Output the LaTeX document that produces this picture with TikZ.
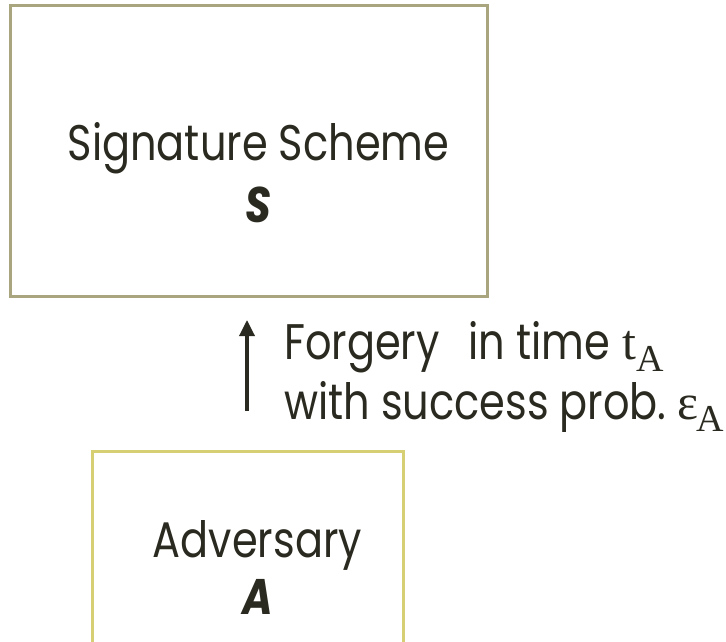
\documentclass[tikz,border=0pt]{standalone}
\usepackage{fontspec}
\setmainfont{Poppins}[FakeStretch=0.83]
\newfontfamily\serifsub{Liberation Serif}
\usetikzlibrary{arrows.meta}
\definecolor{txt}{HTML}{2B2A20}
\definecolor{boxgrey}{HTML}{A9A67F}
\definecolor{boxyellow}{HTML}{D6CF74}
\newcommand{\subA}{{\serifsub\fontsize{38}{40}\selectfont\raisebox{-12pt}{A}}}
\tikzset{
  frame/.style={draw=#1, line width=3pt, inner sep=0pt},
  lbl/.style={text=txt, font=\fontsize{50}{56}\selectfont, inner sep=0pt},
}
\begin{document}
\begin{tikzpicture}[x=1pt,y=-1pt]
\useasboundingbox (0,0) rectangle (726,641);
\node[frame=boxgrey, minimum width=477pt, minimum height=291pt] (scheme) at (248.5,150.5) {};
\node[frame=boxyellow, minimum width=311pt, minimum height=194pt] (adv) at (247.5,548) {};
\node[lbl, anchor=base] (schemetxt) at (258.5,160) {Signature Scheme};
\node[lbl, anchor=base] (schemeS) at (258,222) {\textbf{\textit{S}}};
\node[lbl, anchor=base] (advtxt) at (257.5,557) {Adversary};
\node[lbl, anchor=base] (advA) at (257.5,614) {\textbf{\textit{A}}};
\coordinate (arrfrom) at (247,411);
\coordinate (arrto) at (247,320);
\draw[txt, line width=3.4pt, -{Triangle[length=16pt,width=15pt]}] (arrfrom) -- (arrto);
\node[lbl, anchor=base west] (line1) at (284,359) {Forgery\hspace{29pt}in time\hspace{12pt}{\serifsub t}\subA};
\node[lbl, anchor=base west] (line2) at (284,419) {with\hspace{11pt}success\hspace{11pt}prob.\hspace{11pt}{\serifsub ε}\kern-2pt\subA};
\end{tikzpicture}
\end{document}
